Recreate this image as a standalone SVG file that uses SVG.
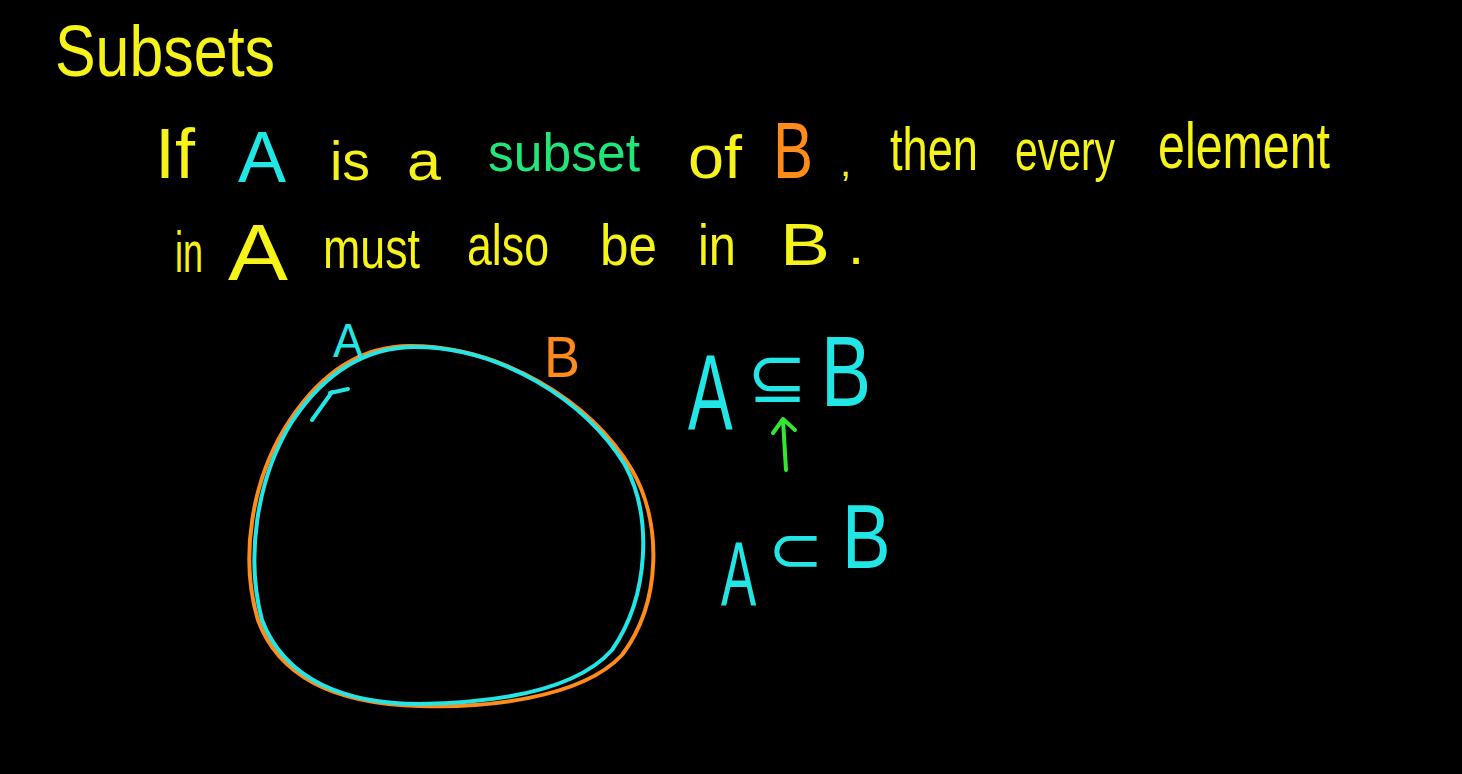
<svg xmlns="http://www.w3.org/2000/svg" width="1462" height="774" viewBox="0 0 1462 774">
<style>
text{font-family:"Liberation Sans","DejaVu Sans",sans-serif;}
.y{fill:#f5f31a;}
.c{fill:#22e6e6;}
.g{fill:#22e67a;}
.o{fill:#ff8c1a;}
.stroke{fill:none;stroke-width:4;stroke-linecap:round;stroke-linejoin:round;}
</style>
<rect width="1462" height="774" fill="#000"/>
<g id="title"><text x="55" y="76" class="y" font-size="72" textLength="220" lengthAdjust="spacingAndGlyphs">Subsets</text></g>
<g id="line1">
<text x="155" y="178" class="y" font-size="70" textLength="40" lengthAdjust="spacingAndGlyphs">If</text>
<text x="238" y="182" class="c" font-size="72">A</text>
<text x="330" y="180" class="y" font-size="56" textLength="40" lengthAdjust="spacingAndGlyphs">is</text>
<text x="407" y="180" class="y" font-size="56" textLength="34" lengthAdjust="spacingAndGlyphs">a</text>
<text x="488" y="171" class="g" font-size="54" textLength="152" lengthAdjust="spacingAndGlyphs">subset</text>
<text x="688" y="178" class="y" font-size="62" textLength="54" lengthAdjust="spacingAndGlyphs">of</text>
<text x="773" y="178" class="o" font-size="80" textLength="40" lengthAdjust="spacingAndGlyphs">B</text>
<text x="840" y="176" class="y" font-size="40">,</text>
<text x="890" y="170" class="y" font-size="62" textLength="88" lengthAdjust="spacingAndGlyphs">then</text>
<text x="1015" y="170" class="y" font-size="58" textLength="100" lengthAdjust="spacingAndGlyphs">every</text>
<text x="1158" y="168" class="y" font-size="64" textLength="172" lengthAdjust="spacingAndGlyphs">element</text>
</g>
<g id="line2">
<text x="175" y="272" class="y" font-size="58" textLength="28" lengthAdjust="spacingAndGlyphs">in</text>
<text x="228" y="280" class="y" font-size="80" textLength="60" lengthAdjust="spacingAndGlyphs">A</text>
<text x="323" y="268" class="y" font-size="58" textLength="97" lengthAdjust="spacingAndGlyphs">must</text>
<text x="467" y="265" class="y" font-size="58" textLength="82" lengthAdjust="spacingAndGlyphs">also</text>
<text x="600" y="265" class="y" font-size="58" textLength="57" lengthAdjust="spacingAndGlyphs">be</text>
<text x="698" y="265" class="y" font-size="58" textLength="38" lengthAdjust="spacingAndGlyphs">in</text>
<text x="780" y="265" class="y" font-size="60" textLength="50" lengthAdjust="spacingAndGlyphs">B</text>
<text x="848" y="264" class="y" font-size="58">.</text>
</g>
<g id="setB">
<path class="stroke" stroke="#ff8c1a" d="M 410 346 C 500 346, 590 400, 632 470 C 662 522, 662 602, 622 655 C 580 700, 480 708, 420 706 C 340 704, 280 680, 258 620 C 240 560, 250 480, 290 420 C 320 375, 360 346, 410 346 Z"/>
<text x="544" y="377" class="o" font-size="58" textLength="36" lengthAdjust="spacingAndGlyphs">B</text>
</g>
<g id="setA">
<path class="stroke" stroke="#22e6e6" d="M 415 347 C 500 347, 585 400, 625 465 C 652 515, 650 595, 612 650 C 572 695, 480 703, 420 704 C 345 704, 285 680, 262 620 C 246 560, 255 480, 293 420 C 323 376, 362 347, 415 347 Z"/>
<path class="stroke" stroke="#22e6e6" d="M 348 389 L 330 393 M 332 392 L 312 420"/>
<text x="333" y="357" class="c" font-size="48" textLength="30" lengthAdjust="spacingAndGlyphs">A</text>
</g>
<g id="notation1">
<text transform="translate(688,430) scale(0.62,1)" class="c" font-size="108">A</text>
<text x="747" y="402" class="c" font-size="72">⊆</text>
<text transform="translate(821,406) scale(0.75,1)" class="c" font-size="100">B</text>
</g>
<g id="connectors">
<path class="stroke" stroke="#33e633" d="M 786 470 L 783 420 M 773 433 L 783 419 L 795 430"/>
</g>
<g id="notation2">
<text transform="translate(721,605) scale(0.58,1)" class="c" font-size="91">A</text>
<text x="768" y="572" class="c" font-size="66">⊂</text>
<text transform="translate(842,568) scale(0.8,1)" class="c" font-size="91">B</text>
</g>
</svg>
